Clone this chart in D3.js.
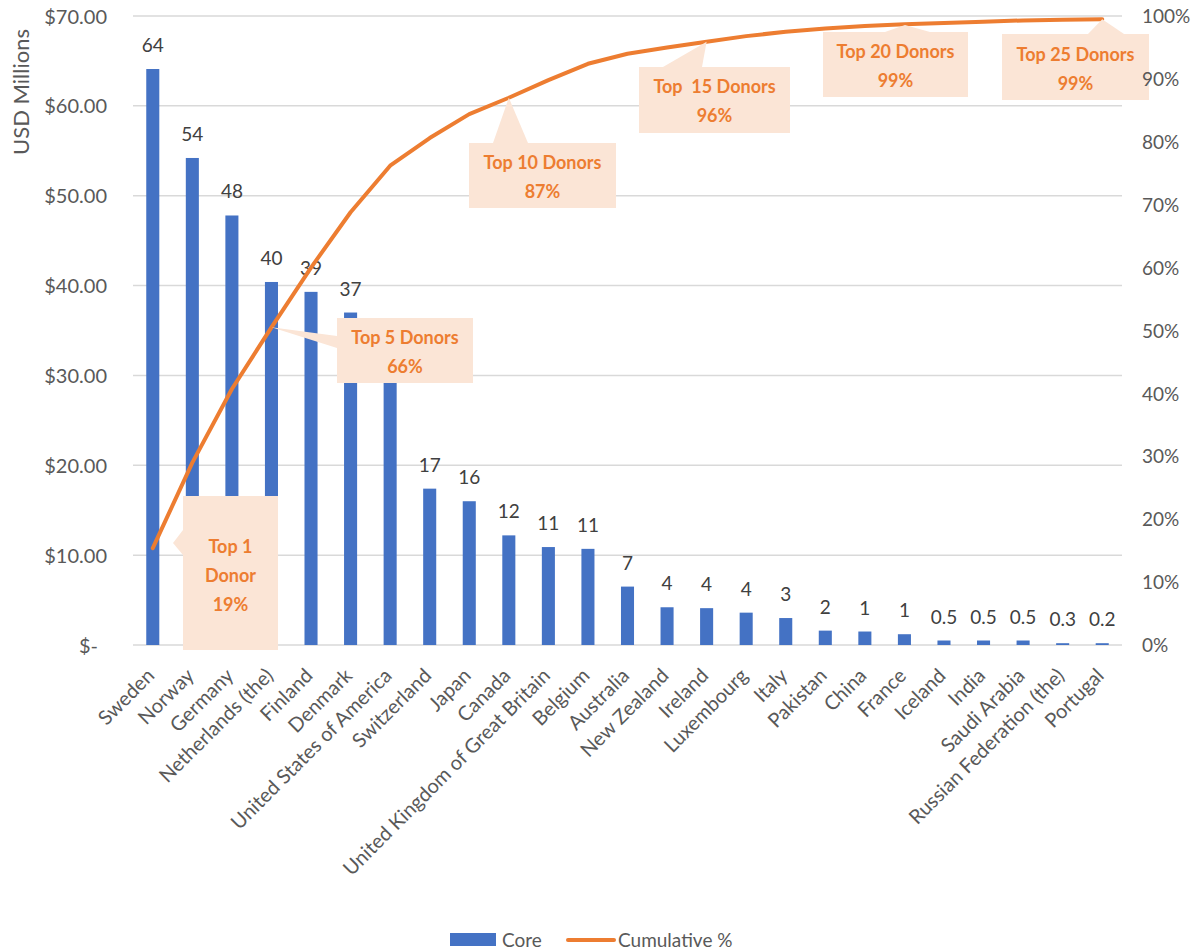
<!DOCTYPE html>
<html><head><meta charset="utf-8">
<script src="https://cdn.jsdelivr.net/npm/d3@7"></script>
<style>
html,body{margin:0;padding:0;background:#fff;}
text{font-family:Lato,"Noto Sans",sans-serif;}
</style></head>
<body>
<svg id="chart" width="1198" height="951"></svg>
<script>
// ---- data ----
const categories = ["Sweden","Norway","Germany","Netherlands (the)","Finland","Denmark","United States of America","Switzerland","Japan","Canada","United Kingdom of Great Britain","Belgium","Australia","New Zealand","Ireland","Luxembourg","Italy","Pakistan","China","France","Iceland","India","Saudi Arabia","Russian Federation (the)","Portugal"];
const coreValues = [64.1,54.2,47.8,40.4,39.3,37.0,31.0,17.4,16.0,12.2,10.9,10.7,6.5,4.2,4.1,3.6,3.0,1.6,1.5,1.2,0.5,0.5,0.5,0.2,0.2];
// the USA label is hidden behind the "Top 5" callout in the reference
const coreLabels = ["64","54","48","40","39","37","","17","16","12","11","11","7","4","4","4","3","2","1","1","0.5","0.5","0.5","0.3","0.2"];
const cumulativePct = [0.154,0.290,0.407,0.505,0.600,0.688,0.762,0.806,0.844,0.870,0.898,0.924,0.940,0.950,0.959,0.968,0.975,0.980,0.984,0.987,0.989,0.991,0.993,0.994,0.995];
const leftTicks = [0,10,20,30,40,50,60,70];
const leftTickLabels = ["$-","$10.00","$20.00","$30.00","$40.00","$50.00","$60.00","$70.00"];
const rightTicks = [0,0.1,0.2,0.3,0.4,0.5,0.6,0.7,0.8,0.9,1.0];
const calloutLines = [["Top 1","Donor","19%"],["Top 5 Donors","66%"],["Top 10 Donors","87%"],["Top  15 Donors","96%"],["Top 20 Donors","99%"],["Top 25 Donors","99%"]];
const seriesNames = ["Core","Cumulative %"];

// ---- layout ----
const svg = d3.select("#chart");
const plot = {left:133, right:1122, top:16, bottom:645};
const BLUE = "#4472c4", ORANGE = "#ed7d31", PEACH = "#fbe5d6", GRID = "#d9d9d9", AXTXT = "#595959";

const x = d3.scaleBand().domain(categories).range([plot.left, plot.right]).paddingInner(0.67).paddingOuter(0.335);
const yL = d3.scaleLinear().domain([0,70]).range([plot.bottom, plot.top]);
const yR = d3.scaleLinear().domain([0,1]).range([plot.bottom, plot.top]);
const cx = c => x(c) + x.bandwidth()/2;

// gridlines
svg.append("g").selectAll("line").data(leftTicks).join("line")
  .attr("x1", plot.left).attr("x2", plot.right)
  .attr("y1", d => yL(d)).attr("y2", d => yL(d))
  .attr("stroke", GRID).attr("stroke-width", 1.5);

// left axis
const gL = svg.append("g").attr("transform", `translate(${plot.left},0)`)
  .call(d3.axisLeft(yL).tickValues(leftTicks).tickSize(0).tickPadding(26).tickFormat((d,i)=>leftTickLabels[i]));
gL.select(".domain").remove();
gL.selectAll("text").attr("fill", AXTXT).style("font-size","20px").attr("dy","0.35em");
gL.selectAll("text").filter(d => d===0).attr("x", -35);

// right axis
const gR = svg.append("g").attr("transform", `translate(${plot.right},0)`)
  .call(d3.axisRight(yR).tickValues(rightTicks).tickSize(0).tickPadding(20).tickFormat(d3.format(".0%")));
gR.select(".domain").remove();

// y title
svg.append("text").attr("transform","translate(29,92) rotate(-90)").attr("text-anchor","middle")
  .attr("fill", AXTXT).style("font-size","22px").text("USD Millions");

// bars
svg.append("g").selectAll("rect").data(categories).join("rect")
  .attr("x", d => x(d)).attr("width", x.bandwidth())
  .attr("y", (d,i) => yL(coreValues[i])).attr("height", (d,i) => plot.bottom - yL(coreValues[i]))
  .attr("fill", BLUE);

// bar labels
svg.append("g").selectAll("text").data(categories).join("text")
  .attr("x", d => cx(d)).attr("y", (d,i) => yL(coreValues[i]) - 17)
  .attr("text-anchor","middle").attr("fill","#404040").style("font-size","19px")
  .text((d,i) => coreLabels[i]);

// x axis labels
svg.append("g").selectAll("text").data(categories).join("text")
  .attr("transform", d => `translate(${cx(d)-2},${plot.bottom+27}) rotate(-45)`)
  .attr("text-anchor","end").attr("dy","0.35em").attr("fill", AXTXT).style("font-size","20px")
  .text(d => d);

// cumulative line
const line = d3.line().x((d,i) => cx(categories[i])).y(d => yR(d));
svg.append("path").datum(cumulativePct).attr("d", line)
  .attr("fill","none").attr("stroke", ORANGE).attr("stroke-width", 4)
  .attr("stroke-linejoin","round").attr("stroke-linecap","round");

// callouts (box geometry + pointer)
const calloutLayout = [
  {box:[183,496,278,650], wedge:[[183,530],[173,543],[183,555]], lineY:[547,576,605]},
  {box:[337,318,473,383], wedge:[[337,336],[cx(categories[3]), yR(cumulativePct[3])],[337,348]], lineY:[338,367]},
  {box:[469,143,616,208], wedge:[[493,143],[cx(categories[9]), yR(cumulativePct[9])],[528,143]], lineY:[163,192]},
  {box:[639,67,790,133], wedge:[[663,67],[cx(categories[14]), yR(cumulativePct[14])],[702,67]], lineY:[87,116]},
  {box:[823,32,968,97], wedge:[[885,32],[905,25],[930,32]], lineY:[52,81]},
  {box:[1002,34,1149,100], wedge:[[1088,34],[cx(categories[24]), yR(cumulativePct[24])],[1124,34]], lineY:[55,84]}
];
const cg = svg.append("g");
calloutLayout.forEach((c,k) => {
  const [x0,y0,x1,y1] = c.box;
  cg.append("rect").attr("x",x0).attr("y",y0).attr("width",x1-x0).attr("height",y1-y0).attr("fill",PEACH);
  cg.append("path").attr("d", d3.line()(c.wedge) + "Z").attr("fill", PEACH);
  calloutLines[k].forEach((t,j) => {
    cg.append("text").attr("x",(x0+x1)/2).attr("y",c.lineY[j]).attr("dy","0.35em")
      .attr("text-anchor","middle").attr("fill",ORANGE).style("font-size","18px").style("font-weight","bold")
      .style("white-space","pre").attr("xml:space","preserve").text(t);
  });
});

// right axis labels drawn above callouts
gR.raise();
gR.selectAll("text").attr("fill", AXTXT).style("font-size","19px").attr("dy","0.35em");

// legend
const lg = svg.append("g");
lg.append("rect").attr("x",450).attr("y",933).attr("width",46).attr("height",13).attr("fill",BLUE);
lg.append("text").attr("x",502).attr("y",940).attr("dy","0.35em").attr("fill",AXTXT).style("font-size","19px").text(seriesNames[0]);
lg.append("line").attr("x1",568).attr("x2",614).attr("y1",940).attr("y2",940).attr("stroke",ORANGE).attr("stroke-width",4).attr("stroke-linecap","round");
lg.append("text").attr("x",618).attr("y",940).attr("dy","0.35em").attr("fill",AXTXT).style("font-size","19px").text(seriesNames[1]);
</script>
</body></html>
